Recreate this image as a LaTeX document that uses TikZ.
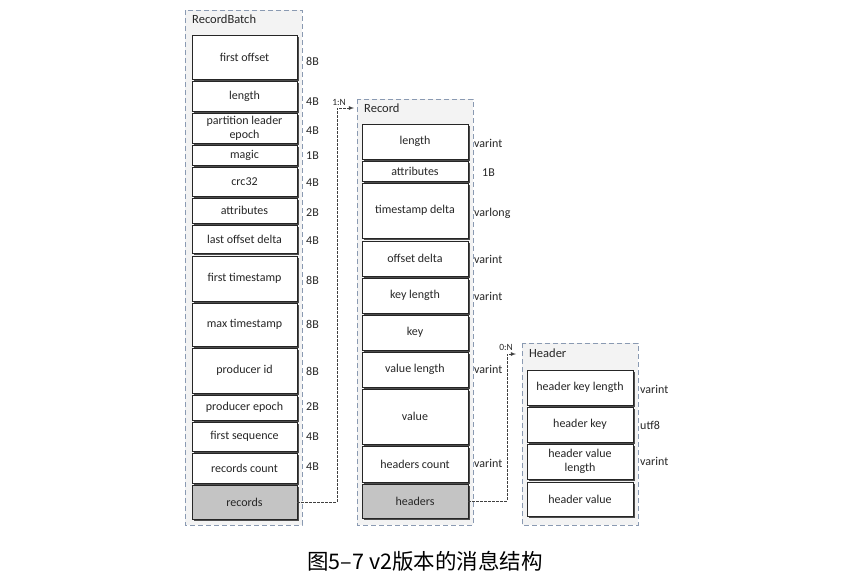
\documentclass[tikz,border=0pt]{standalone}
\usepackage{fontspec}
\setmainfont{Carlito}
\newfontfamily\cjk{Noto Sans CJK SC}
\usetikzlibrary{shadows}

\definecolor{groupline}{HTML}{8A9AB2}
\definecolor{groupfill}{HTML}{F3F3F3}
\definecolor{listfill}{HTML}{C4C4C4}

\tikzstyle{group}=[draw=groupline,fill=groupfill,line width=1pt,dash pattern=on 5pt off 3pt]
\tikzstyle{grouptitle}=[anchor=west,inner sep=0pt,text=black!85,font=\fontsize{12.5}{14}\selectfont]
\tikzstyle{field}=[shape=rectangle,draw=black!85,fill=white,line width=0.9pt,inner sep=1pt,
    align=center,text=black!85,font=\fontsize{12}{14}\selectfont,
    drop shadow={shadow xshift=1.8pt,shadow yshift=-1.8pt,fill=black!70,opacity=1}]
\tikzstyle{batchfield}=[field,minimum width=105pt]
\tikzstyle{recfield}=[field,minimum width=106pt]
\tikzstyle{listfield}=[field,fill=listfill]
\tikzstyle{size}=[anchor=west,inner sep=0pt,text=black!85,font=\fontsize{12}{14}\selectfont]
\tikzstyle{link}=[->,>=latex,black!75,line width=0.8pt,dash pattern=on 2.5pt off 1.5pt]

\begin{document}
\begin{tikzpicture}[x=1pt,y=-1pt]
\useasboundingbox (0,0) rectangle (844,582);

% RecordBatch column
\draw[group] (185,10) rectangle (302,525);
\node[grouptitle] (t_batch) at (192,19) {RecordBatch};
\node[batchfield,minimum height=44] (b1)  at (244.5,57)    {first offset};
\node[batchfield,minimum height=30] (b2)  at (244.5,96)    {length};
\node[batchfield,minimum height=30] (b3)  at (244.5,128)   {partition leader\\epoch};
\node[batchfield,minimum height=20] (b4)  at (244.5,155)   {magic};
\node[batchfield,minimum height=29] (b5)  at (244.5,181.5) {crc32};
\node[batchfield,minimum height=25] (b6)  at (244.5,210.5) {attributes};
\node[batchfield,minimum height=28] (b7)  at (244.5,239)   {last offset delta};
\node[batchfield,minimum height=45] (b8)  at (244.5,278.5) {first timestamp};
\node[batchfield,minimum height=43] (b9)  at (244.5,324.5) {max timestamp};
\node[batchfield,minimum height=45] (b10) at (244.5,370.5) {producer id};
\node[batchfield,minimum height=25] (b11) at (244.5,407.5) {producer epoch};
\node[batchfield,minimum height=29] (b12) at (244.5,436.5) {first sequence};
\node[batchfield,minimum height=30] (b13) at (244.5,468)   {records count};
\node[batchfield,listfield,minimum height=34] (records) at (244.5,502) {records};
\node[size] (s_b1)  at (306,61)  {8B};
\node[size] (s_b2)  at (306,102) {4B};
\node[size] (s_b3)  at (306,131) {4B};
\node[size] (s_b4)  at (306,156) {1B};
\node[size] (s_b5)  at (306,183) {4B};
\node[size] (s_b6)  at (306,213) {2B};
\node[size] (s_b7)  at (306,241) {4B};
\node[size] (s_b8)  at (306,280) {8B};
\node[size] (s_b9)  at (306,324) {8B};
\node[size] (s_b10) at (306,371) {8B};
\node[size] (s_b11) at (306,407) {2B};
\node[size] (s_b12) at (306,437) {4B};
\node[size] (s_b13) at (306,467) {4B};

% Record column
\draw[group] (357,99) rectangle (473,525);
\node[grouptitle] (t_record) at (364,108) {Record};
\node[recfield,minimum height=35] (r1)  at (415,141.5) {length};
\node[recfield,minimum height=20] (r2)  at (415,171)   {attributes};
\node[recfield,minimum height=55] (r3)  at (415,210.5) {timestamp delta};
\node[recfield,minimum height=35] (r4)  at (415,258.5) {offset delta};
\node[recfield,minimum height=35] (r5)  at (415,295.5) {key length};
\node[recfield,minimum height=35] (r6)  at (415,332.5) {key};
\node[recfield,minimum height=35] (r7)  at (415,369.5) {value length};
\node[recfield,minimum height=55] (r8)  at (415,416.5) {value};
\node[recfield,minimum height=36] (r9)  at (415,464)   {headers count};
\node[recfield,listfield,minimum height=34] (headers) at (415,501) {headers};
\node[size] (s_r1) at (474,143) {varint};
\node[size] (s_r2) at (482,173) {1B};
\node[size] (s_r3) at (474,213) {varlong};
\node[size] (s_r4) at (474,259) {varint};
\node[size] (s_r5) at (474,296) {varint};
\node[size] (s_r7) at (474,369) {varint};
\node[size] (s_r9) at (474,463) {varint};

% Header column
\draw[group] (522,343) rectangle (638,525);
\node[grouptitle] (t_header) at (529,353) {Header};
\node[recfield,minimum height=35] (h1) at (580,387.5) {header key length};
\node[recfield,minimum height=35] (h2) at (580,424.5) {header key};
\node[recfield,minimum height=35] (h3) at (580,461.5) {header value\\length};
\node[recfield,minimum height=34] (h4) at (580,499)   {header value};
\node[size] (s_h1) at (640,389) {varint};
\node[size] (s_h2) at (640,425) {utf8};
\node[size] (s_h3) at (640,461) {varint};

% links
\coordinate (k1) at (337,108);
\coordinate (rec_in) at (354,108);
\draw[link] (records.east) -| (k1) -- (rec_in);
\node[size,anchor=south] (n1) at (339,106) {\fontsize{9.5}{10}\selectfont 1:N};
\coordinate (k2) at (507,354);
\coordinate (hdr_in) at (516,354);
\draw[link] (headers.east) -| (k2) -- (hdr_in);
\node[size,anchor=south] (n2) at (506,351) {\fontsize{9.5}{10}\selectfont 0:N};

% caption
\node (caption) at (425,561) {\cjk\fontsize{21.5}{24}\selectfont 图5–7 v2版本的消息结构};
\end{tikzpicture}
\end{document}
